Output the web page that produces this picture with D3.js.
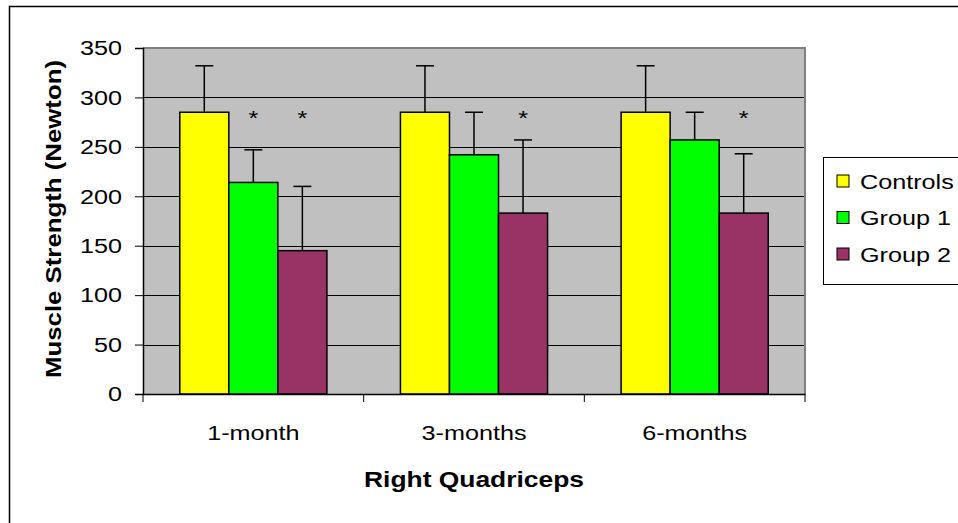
<!DOCTYPE html>
<html>
<head>
<meta charset="utf-8">
<script src="https://cdn.jsdelivr.net/npm/d3@7"></script>
<style>
  body { margin: 0; background: #fff; }
  svg { display: block; font-family: "Liberation Sans", Arial, sans-serif; }
</style>
</head>
<body>
<div id="chart"></div>
<script>
const categories = ["1-month", "3-months", "6-months"],
      seriesNames = ["Controls", "Group 1", "Group 2"],
      colors = ["#ffff00", "#00ff00", "#993366"],
      controls = [285, 285, 285],
      group1 = [214, 242, 257],
      group2 = [145, 183, 183],
      errControls = [47, 47, 47],
      errGroup1 = [33, 43, 28],
      errGroup2 = [65, 74, 60],
      // asterisks: which bars are marked significant
      starGroup1 = [true, false, false],
      starGroup2 = [true, true, true],
      starLevel = 272,
      yTicks = [0, 50, 100, 150, 200, 250, 300, 350]

const W = 958, H = 523,
      plot = {left: 143, right: 805, top: 48, bottom: 394},
      sx = 1.2  // the reference text is drawn a bit wide

const values = [controls, group1, group2],
      errors = [errControls, errGroup1, errGroup2],
      stars = [[false, false, false], starGroup1, starGroup2]

const svg = d3.select("#chart").append("svg")
  .attr("width", W)
  .attr("height", H)

// outer chart border
svg.append("rect")
  .attr("x", 9.5).attr("y", 6.5)
  .attr("width", 980).attr("height", 540)
  .attr("fill", "none")
  .attr("stroke", "#000")
  .attr("stroke-width", 1.5)

const x0 = d3.scaleBand()
  .domain(categories)
  .range([plot.left, plot.right])

const x1 = d3.scaleBand()
  .domain(seriesNames)
  .range([0, x0.bandwidth()])
  .paddingInner(0)
  .paddingOuter(0.75)

const y = d3.scaleLinear()
  .domain([0, 350])
  .range([plot.bottom, plot.top])

// plot background
svg.append("rect")
  .attr("x", plot.left).attr("y", plot.top)
  .attr("width", plot.right - plot.left)
  .attr("height", plot.bottom - plot.top)
  .attr("fill", "#c0c0c0")

// gridlines
svg.append("g")
  .selectAll("line")
  .data(yTicks.filter(d => d > 0 && d < 350))
  .join("line")
  .attr("x1", plot.left).attr("x2", plot.right)
  .attr("y1", d => Math.round(y(d)) + 0.5)
  .attr("y2", d => Math.round(y(d)) + 0.5)
  .attr("stroke", "#000")
  .attr("stroke-width", 1)

// gray frame on top and right
svg.append("path")
  .attr("d", `M${plot.left},${plot.top} H${plot.right} V${plot.bottom}`)
  .attr("fill", "none")
  .attr("stroke", "#808080")
  .attr("stroke-width", 2)

// bars
const groups = svg.append("g")
  .selectAll("g")
  .data(categories)
  .join("g")
  .attr("transform", d => `translate(${x0(d)},0)`)

groups.each(function(cat, ci) {
  const g = d3.select(this)
  seriesNames.forEach((s, si) => {
    const v = values[si][ci],
          e = errors[si][ci],
          cx = x1(s) + x1.bandwidth() / 2

    g.append("rect")
      .attr("x", x1(s))
      .attr("y", y(v))
      .attr("width", x1.bandwidth())
      .attr("height", y(0) - y(v))
      .attr("fill", colors[si])
      .attr("stroke", "#000")
      .attr("stroke-width", 1.5)

    g.append("line")
      .attr("x1", cx).attr("x2", cx)
      .attr("y1", y(v)).attr("y2", y(v + e))
      .attr("stroke", "#000").attr("stroke-width", 1.5)
    g.append("line")
      .attr("x1", cx - 9).attr("x2", cx + 9)
      .attr("y1", y(v + e)).attr("y2", y(v + e))
      .attr("stroke", "#000").attr("stroke-width", 1.5)

    if (stars[si][ci]) {
      g.append("text")
        .attr("transform", `translate(${cx},${y(starLevel)}) scale(${sx},1)`)
        .attr("text-anchor", "middle")
        .style("font-size", "21px")
        .text("*")
    }
  })
})

// y axis
const yAxis = svg.append("g")
  .attr("transform", `translate(${plot.left},0)`)
  .call(d3.axisLeft(y).tickValues(yTicks).tickSize(8).tickPadding(0))
yAxis.select(".domain").attr("stroke", "#000").attr("stroke-width", 1.5)
yAxis.selectAll(".tick line").attr("stroke", "#000")
yAxis.selectAll(".tick text")
  .attr("x", -17.5)
  .attr("transform", `scale(${sx},1)`)
  .attr("fill", "#000")
  .style("font-size", "21px")
  .style("font-family", "Liberation Sans, Arial, sans-serif")

// x axis
const xAxis = svg.append("g")
  .attr("transform", `translate(0,${plot.bottom})`)
  .call(d3.axisBottom(x0).tickSize(0).tickPadding(0))
xAxis.select(".domain").attr("stroke", "#000").attr("stroke-width", 1.5)
xAxis.selectAll(".tick text")
  .attr("y", 46)
  .attr("dy", null)
  .attr("transform", `scale(${sx},1)`)
  .attr("fill", "#000")
  .style("font-size", "21px")
  .style("font-family", "Liberation Sans, Arial, sans-serif")

// category separators on the x axis
svg.append("g")
  .selectAll("line")
  .data(categories.concat(["end"]))
  .join("line")
  .attr("x1", (d, i) => plot.left + i * x0.step())
  .attr("x2", (d, i) => plot.left + i * x0.step())
  .attr("y1", plot.bottom)
  .attr("y2", plot.bottom + 8)
  .attr("stroke", "#000")

// axis titles
svg.append("text")
  .attr("transform", `translate(${(plot.left + plot.right) / 2},487) scale(${sx},1)`)
  .attr("text-anchor", "middle")
  .style("font-size", "22px")
  .style("font-weight", "bold")
  .text("Right Quadriceps")

svg.append("text")
  .attr("transform", `translate(61,${(plot.top + plot.bottom) / 2 - 2}) rotate(-90) scale(${sx},1)`)
  .attr("text-anchor", "middle")
  .style("font-size", "21.5px")
  .style("font-weight", "bold")
  .text("Muscle Strength (Newton)")

// legend
const legend = svg.append("g")
  .attr("transform", "translate(823,157)")

legend.append("rect")
  .attr("x", 0.5).attr("y", 0.5)
  .attr("width", 160).attr("height", 127)
  .attr("fill", "#fff")
  .attr("stroke", "#000")

const items = legend.selectAll(".item")
  .data(seriesNames)
  .join("g")
  .attr("class", "item")
  .attr("transform", (d, i) => `translate(0,${24 + i * 36.5})`)

items.append("rect")
  .attr("x", 14).attr("y", -6)
  .attr("width", 12).attr("height", 12)
  .attr("fill", (d, i) => colors[i])
  .attr("stroke", "#000")

items.append("text")
  .attr("transform", `translate(37,7.5) scale(${sx},1)`)
  .style("font-size", "21px")
  .text(d => d)
</script>
</body>
</html>
